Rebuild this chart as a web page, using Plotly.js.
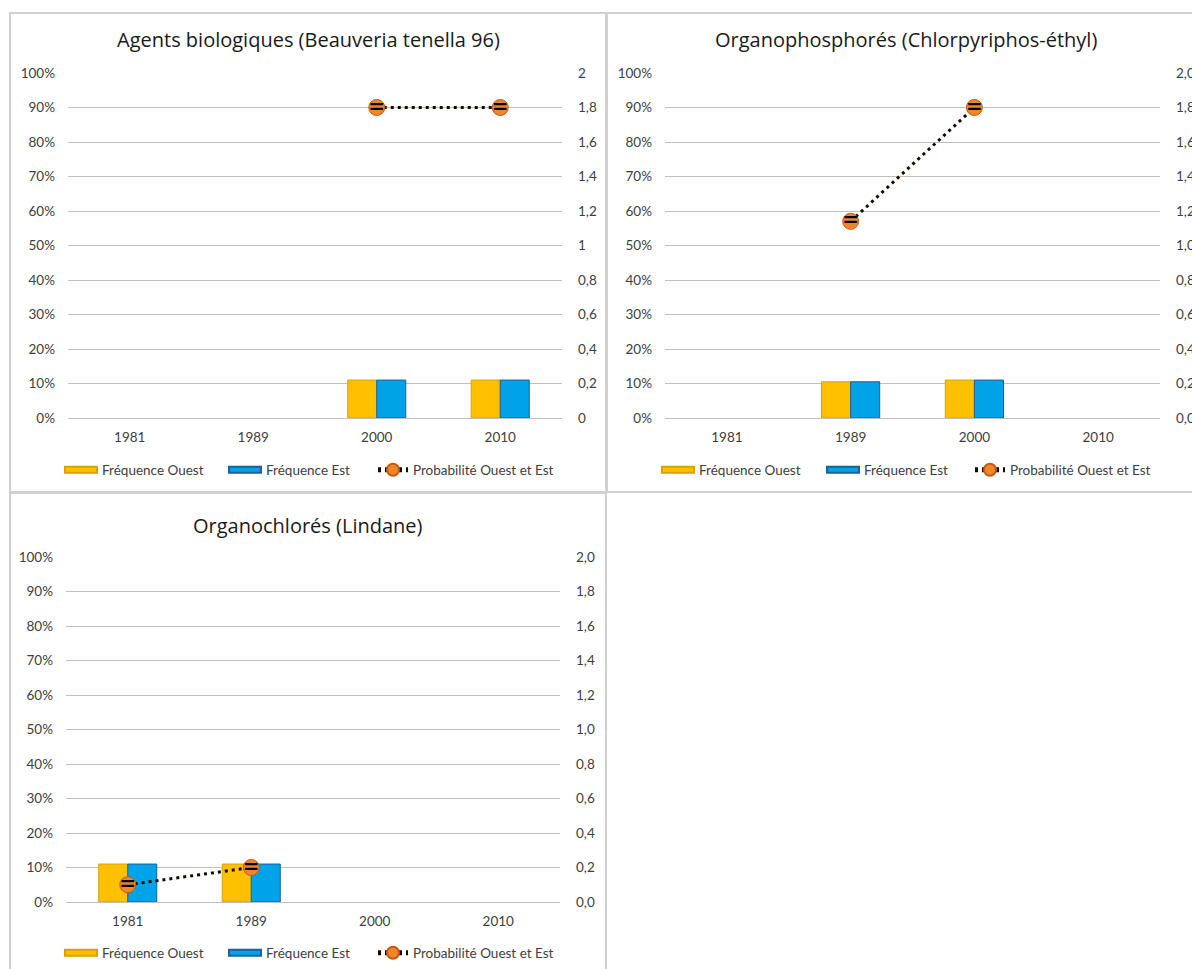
<!DOCTYPE html>
<html>
<head>
<meta charset="utf-8">
<script src="https://cdn.plot.ly/plotly-3.0.1.min.js"></script>
<style>html,body{margin:0;padding:0;background:#fff;}#chart{width:1192px;height:969px;}</style>
</head>
<body>
<div id="chart"></div>
<script>
// ---- data ----
const categories = ['1981', '1989', '2000', '2010'];
const seriesNames = ['Fréquence Ouest', 'Fréquence Est', 'Probabilité Ouest et Est'];
const panelTitles = ['Agents biologiques (Beauveria tenella 96)', 'Organophosphorés (Chlorpyriphos-éthyl)', 'Organochlorés (Lindane)'];

const bioOuest = [null, null, 0.11, 0.11];
const bioEst   = [null, null, 0.11, 0.11];
const bioProb  = [null, null, 1.8, 1.8];

const phosOuest = [null, 0.105, 0.11, null];
const phosEst   = [null, 0.105, 0.11, null];
const phosProb  = [null, 1.14, 1.8, null];

const chlorOuest = [0.11, 0.11, null, null];
const chlorEst   = [0.11, 0.11, null, null];
const chlorProb  = [0.1, 0.2, null, null];

const pctTicks = [0, 0.1, 0.2, 0.3, 0.4, 0.5, 0.6, 0.7, 0.8, 0.9, 1];
const probTicks = [0, 0.2, 0.4, 0.6, 0.8, 1, 1.2, 1.4, 1.6, 1.8, 2];

// ---- styling ----
const W = 1192, H = 969;
const FONT = 'Lato, "Open Sans", sans-serif';
const TITLE_FONT = '"Open Sans", Lato, sans-serif';
const px = v => v / W;
const py = v => 1 - v / H;
const ORANGE = '#FFC000', ORANGE_EDGE = '#D9A200';
const BLUE = '#00A2E8', BLUE_EDGE = '#1F5F9F';
const TXT = '#404040';

const panels = [
  {ouest: bioOuest, est: bioEst, prob: bioProb, x: [68, 562], y: [73, 418], rightFmt: '', legX: [62, 226, 373], legY: 470},
  {ouest: phosOuest, est: phosEst, prob: phosProb, x: [665, 1160], y: [73, 418], rightFmt: '.1f', legX: [659, 824, 970], legY: 470},
  {ouest: chlorOuest, est: chlorEst, prob: chlorProb, x: [66, 560], y: [557, 902], rightFmt: '.1f', legX: [62, 226, 373], legY: 953}
];

const data = [];
const layout = {
  width: W, height: H,
  margin: {l: 0, r: 0, t: 0, b: 0},
  paper_bgcolor: '#fff', plot_bgcolor: 'rgba(0,0,0,0)',
  separators: ', ',
  barmode: 'group', bargap: 0.53, bargroupgap: 0,
  font: {family: FONT, size: 13.5, color: TXT},
  showlegend: true,
  shapes: [], annotations: []
};

let legIdx = 0;
function newLegend(x, y) {
  legIdx += 1;
  const key = legIdx === 1 ? 'legend' : 'legend' + legIdx;
  layout[key] = {orientation: 'h', x: px(x), xanchor: 'left', y: py(y), yanchor: 'middle',
    bgcolor: 'rgba(0,0,0,0)', font: {family: FONT, size: 13.5, color: TXT}, itemsizing: 'constant'};
  return key;
}

panels.forEach((p, i) => {
  const n = i + 1;
  const xa = n === 1 ? 'x' : 'x' + n;
  const yl = 'y' + (2 * n - 1 === 1 ? '' : (2 * n - 1));
  const yr = 'y' + (2 * n);
  const xKey = n === 1 ? 'xaxis' : 'xaxis' + n;
  const ylKey = 'yaxis' + (2 * n - 1 === 1 ? '' : (2 * n - 1));
  const yrKey = 'yaxis' + (2 * n);

  data.push({type: 'bar', name: seriesNames[0], x: categories, y: p.ouest, xaxis: xa, yaxis: yl, legend: newLegend(p.legX[0], p.legY),
    offsetgroup: 'o', marker: {color: ORANGE, line: {color: ORANGE_EDGE, width: 1}}, hoverinfo: 'skip'});
  data.push({type: 'bar', name: seriesNames[1], x: categories, y: p.est, xaxis: xa, yaxis: yl, legend: newLegend(p.legX[1], p.legY),
    offsetgroup: 'e', marker: {color: BLUE, line: {color: BLUE_EDGE, width: 1}}, hoverinfo: 'skip'});
  data.push({type: 'scatter', mode: 'lines+markers', name: seriesNames[2], x: categories, y: p.prob, xaxis: xa, yaxis: yr, legend: newLegend(p.legX[2], p.legY),
    line: {color: '#1a0800', width: 3, dash: '3px,4px'},
    marker: {symbol: 'circle', size: 16, color: '#F0862A', line: {color: '#C55A11', width: 1}}, hoverinfo: 'skip'});
  data.push({type: 'scatter', mode: 'text', showlegend: false, x: categories, y: p.prob, xaxis: xa, yaxis: yr,
    text: p.prob.map(v => v == null ? '' : '='), textposition: 'middle center',
    textfont: {family: 'DejaVu Sans', size: 20, color: '#000', weight: 'bold'}, hoverinfo: 'skip'});

  layout[xKey] = {domain: [px(p.x[0]), px(p.x[1])], anchor: yl, type: 'category', categoryorder: 'array', categoryarray: categories,
    range: [-0.5, 3.5], showgrid: false, zeroline: false, showline: false, ticks: '', ticklabelstandoff: 9,
    tickfont: {size: 13.5, color: TXT}, fixedrange: true};
  layout[ylKey] = {domain: [py(p.y[1]), py(p.y[0])], anchor: xa, range: [0, 1], tickvals: pctTicks, tickformat: '.0%',
    showgrid: true, gridcolor: '#BFBFBF', gridwidth: 1, zeroline: true, zerolinecolor: '#BFBFBF', zerolinewidth: 1,
    showline: false, ticks: '', ticklabelstandoff: 12, tickfont: {size: 13.5, color: TXT}, fixedrange: true};
  layout[yrKey] = {overlaying: yl, side: 'right', anchor: xa, range: [0, 2], tickvals: probTicks, tickformat: p.rightFmt,
    showgrid: false, zeroline: false, showline: false, ticks: '', ticklabelstandoff: 15,
    tickfont: {size: 13.5, color: TXT}, fixedrange: true};
});

// panel frames
layout.shapes.push({type: 'rect', xref: 'paper', yref: 'paper', x0: px(10), x1: px(606), y0: py(13), y1: py(492), line: {color: '#D0D0D0', width: 2}});
layout.shapes.push({type: 'rect', xref: 'paper', yref: 'paper', x0: px(607), x1: px(1210), y0: py(13), y1: py(492), line: {color: '#D0D0D0', width: 2}});
layout.shapes.push({type: 'rect', xref: 'paper', yref: 'paper', x0: px(10), x1: px(606), y0: py(493), y1: py(985), line: {color: '#D0D0D0', width: 2}});

// titles
const titlePos = [[308, 40], [906, 40], [308, 525]];
panelTitles.forEach((t, i) => {
  layout.annotations.push({text: t, xref: 'paper', yref: 'paper', x: px(titlePos[i][0]), y: py(titlePos[i][1]),
    xanchor: 'center', yanchor: 'middle', showarrow: false, font: {family: TITLE_FONT, size: 20, color: '#1a1a1a'}});
});

function flattenBarSwatches() {
  // widen bar legend swatches into flat rectangles like the original
  document.querySelectorAll('#chart g.legendpoints path').forEach(el => {
    const d = (el.getAttribute('d') || '').replace(/\s/g, '');
    if (/^M6,6H-6V-6H6Z$/.test(d)) {
      el.setAttribute('d', 'M-17,3H15V-3H-17Z');
    }
  });
}

const gd = document.getElementById('chart');
Plotly.newPlot(gd, data, layout, {displayModeBar: false, staticPlot: true}).then(() => {
  gd.on('plotly_afterplot', flattenBarSwatches);
  flattenBarSwatches();
  setTimeout(flattenBarSwatches, 50);
  setTimeout(flattenBarSwatches, 300);
});
</script>
</body>
</html>
